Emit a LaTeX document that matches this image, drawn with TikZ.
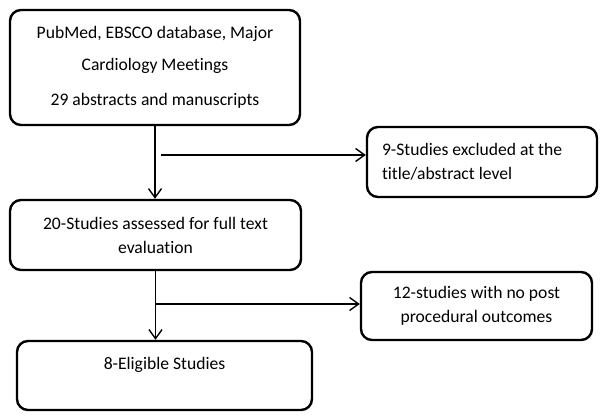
\documentclass[tikz,border=0pt]{standalone}
\usepackage{fontspec}
\setmainfont{Carlito}[Ligatures=CommonOff]
\usepackage{tikz}
\usetikzlibrary{arrows.meta}
\tikzset{>={Straight Barb[width=13pt,length=9pt]}}

\begin{document}
\begin{tikzpicture}[
    x = 1pt, y = -1pt,
    box/.style = {draw, line width=2.4pt, rounded corners=11pt,
        align=center, inner sep=0pt,
        font=\fontsize{17.6}{24}\selectfont},
    arr/.style = {->, line width=1.4pt}
  ]
  \useasboundingbox (0,0) rectangle (600,419);

  \node[box, minimum width=290pt, minimum height=115pt,
        font=\fontsize{17.6}{32}\selectfont] (search) at (155,67.5)
    {PubMed, EBSCO database, Major\\ Cardiology Meetings\\[3pt] 29 abstracts and manuscripts};
  \node[box, minimum width=291pt, minimum height=70pt] (full) at (155.5,235)
    {20-Studies assessed for full text\\ evaluation};
  \node[box, minimum width=295pt, minimum height=69pt] (eligible) at (164.5,375.5)
    {8-Eligible Studies\\ ~};

  \node[box, inner xsep=15pt, text width=200pt, align=flush left,
        minimum height=70pt] (title) at (482,162)
    {9-Studies excluded at the\\ title/abstract level};
  \node[box, minimum width=231pt, minimum height=68pt] (outcome) at (476.5,306)
    {12-studies with no post\\ procedural outcomes};

  \coordinate (split1) at (161,155);
  \coordinate (split2) at (155.5,304);

  \draw[arr] (search.south) -- (search.south |- full.north);
  \draw[arr] (split1) -- (split1 -| title.west);
  \draw[arr] (full.south) -- (full.south |- eligible.north);
  \draw[arr] (split2) -- (split2 -| outcome.west);
\end{tikzpicture}
\end{document}
